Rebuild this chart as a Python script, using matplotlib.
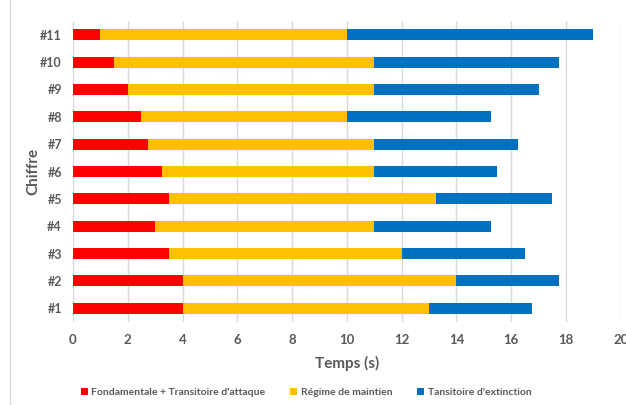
import matplotlib.pyplot as plt
from matplotlib.lines import Line2D

# Daten
chiffres = ["#1", "#2", "#3", "#4", "#5", "#6", "#7", "#8", "#9", "#10", "#11"]
attaque = [4, 4, 3.5, 3, 3.5, 3.25, 2.75, 2.5, 2, 1.5, 1]
fin_maintien = [13, 14, 12, 11, 13.25, 11, 11, 10, 11, 11, 10]
fin_extinction = [16.75, 17.75, 16.5, 15.25, 17.5, 15.5, 16.25, 15.25, 17, 17.75, 19]

maintien = [m - a for m, a in zip(fin_maintien, attaque)]
extinction = [e - m for e, m in zip(fin_extinction, fin_maintien)]

plt.rcParams["font.family"] = ["Lato", "DejaVu Sans"]
grey = "#595959"

fig = plt.figure(figsize=(6.26, 4.05), dpi=100)
ax = fig.add_axes([0.1166, 0.205, 0.875, 0.743])

y = range(len(chiffres))
h = 0.4
ax.barh(y, attaque, height=h, color="#FF0000", label="Fondamentale + Transitoire d'attaque", zorder=3)
ax.barh(y, maintien, left=attaque, height=h, color="#FFC000", label="Régime de maintien", zorder=3)
ax.barh(y, extinction, left=fin_maintien, height=h, color="#0070C0", label="Tansitoire d'extinction", zorder=3)

ax.set_xlim(0, 20)
ax.set_ylim(-0.5, len(chiffres) - 0.5)
ax.set_xticks(range(0, 21, 2))
ax.set_yticks(list(y))
ax.set_yticklabels(chiffres)
ax.grid(axis="x", color="#D9D9D9", linewidth=1, zorder=0)
for s in ax.spines.values():
    s.set_visible(False)
ax.tick_params(axis="x", length=0, labelsize=9.5, labelcolor=grey, pad=9)
ax.tick_params(axis="y", length=0, labelsize=9, labelcolor=grey, pad=8)
for t in ax.get_xticklabels() + ax.get_yticklabels():
    t.set_fontweight("bold")

ax.set_xlabel("Temps (s)", fontsize=11, fontweight="bold", color=grey, labelpad=7)
ax.set_ylabel("Chiffre", fontsize=11, fontweight="bold", color=grey, labelpad=0)

leg = fig.legend(loc="center", bbox_to_anchor=(0.489, 0.03), ncol=3, frameon=False,
                 prop={"weight": "bold", "size": 7.5}, handlelength=0.65, handleheight=0.65,
                 handletextpad=0.35, columnspacing=2.4)
for t in leg.get_texts():
    t.set_color(grey)

# Rahmenlinie links
fig.add_artist(Line2D([10 / 626, 10 / 626], [0, 1], color="#D9D9D9", linewidth=1))

fig.savefig("out.png", dpi=100)
